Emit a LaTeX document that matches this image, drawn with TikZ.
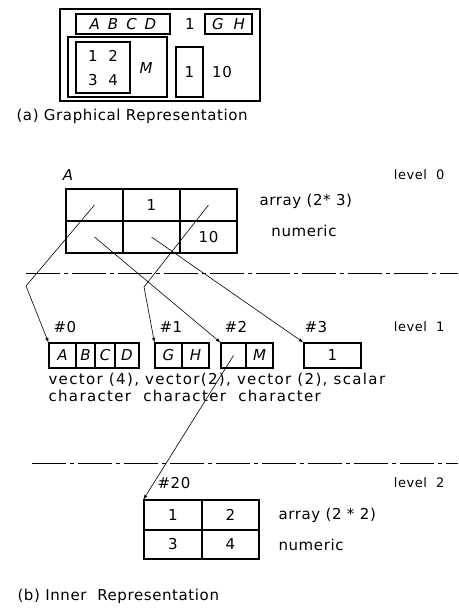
\documentclass[tikz,border=0pt]{standalone}
\usepackage{fontspec}
\setmainfont{DejaVu Sans}[LetterSpace=4]
\usetikzlibrary{arrows,positioning}

\begin{document}
\begin{tikzpicture}[x=1pt,y=-1pt,>=latex,
    every node/.style={font=\fontsize{15}{17}\selectfont},
    frame/.style={draw,line width=1.1pt,inner sep=0pt},
    cellbox/.style={frame,minimum width=57pt,minimum height=32pt},
    lvl/.style={font=\fontsize{13}{15}\selectfont,anchor=east},
    wide/.style={font=\fontsize{15}{17}\selectfont\addfontfeatures{LetterSpace=9}},
    ptr/.style={line width=0.6pt},
    levelline/.style={line width=0.9pt,dash pattern=on 34pt off 4pt on 4pt off 4pt}]
    \useasboundingbox (0,0) rectangle (458,613);

    % (a) graphical representation: nested boxes
    \node[frame,minimum width=200pt,minimum height=92pt] (gr) at (160,55) {};
    \node[frame,minimum width=94pt,minimum height=20pt] (grabcd) at (123,24) {\itshape A\hspace{8pt}B\hspace{8pt}C\hspace{8pt}D};
    \node (grone) at (190,24) {1};
    \node[frame,minimum width=47pt,minimum height=20pt] (grgh) at (228.5,24) {\itshape G\hspace{10pt}H};
    \node[frame,minimum width=99pt,minimum height=60pt] (grm) at (117.5,67) {};
    \node[frame,minimum width=54pt,minimum height=51pt] (grmat) at (103,67.5) {};
    \node (grrow1) at (103,56) {1 \ 2};
    \node (grrow2) at (103,80) {3 \ 4};
    \node (grmname) at (146,68) {\itshape M};
    \node[frame,minimum width=27pt,minimum height=50pt] (grscal) at (189.5,72) {1};
    \node (grten) at (222,72) {10};
    \node[anchor=west] (capa) at (13,116) {(a) Graphical Representation};

    % level 0: the array A
    \node (nameA) at (68,175) {\itshape A};
    \node[lvl] (lvl0) at (448,175) {level\ \ 0};
    \node[cellbox] (a11) at (94.5,205) {};
    \node[cellbox] (a12) at (151.5,205) {1};
    \node[cellbox] (a13) at (208.5,205) {};
    \node[cellbox] (a21) at (94.5,237) {};
    \node[cellbox] (a22) at (151.5,237) {};
    \node[cellbox] (a23) at (208.5,237) {10};
    \node[anchor=west] (a0type) at (256,201) {array (2* 3)};
    \node (a0num) at (304,231) {numeric};

    % border between level 0 and level 1
    \coordinate (d1l) at (26,273);
    \coordinate (d1r) at (458,273);
    \draw[levelline] (d1l) -- (d1r);

    % level 1: the four cells
    \node[anchor=west] (h0) at (50,327) {\#0};
    \node[anchor=west] (h1) at (156,327) {\#1};
    \node[anchor=west] (h2) at (221,327) {\#2};
    \node[anchor=west] (h3) at (301,327) {\#3};
    \node[lvl] (lvl1) at (448,327) {level\ \ 1};

    \node[frame,minimum width=27pt,minimum height=25pt] (v0a) at (62.5,355.5) {\itshape A};
    \node[frame,minimum width=19pt,minimum height=25pt] (v0b) at (85.5,355.5) {\itshape B};
    \node[frame,minimum width=20pt,minimum height=25pt] (v0c) at (105,355.5) {\itshape C};
    \node[frame,minimum width=24pt,minimum height=25pt] (v0d) at (127,355.5) {\itshape D};
    \node[frame,minimum width=27pt,minimum height=25pt] (v1g) at (168.5,355.5) {\itshape G};
    \node[frame,minimum width=27pt,minimum height=25pt] (v1h) at (195.5,355.5) {\itshape H};
    \node[frame,minimum width=25pt,minimum height=25pt] (v2p) at (233.5,355.5) {};
    \node[frame,minimum width=27pt,minimum height=25pt] (v2m) at (259.5,355.5) {\itshape M};
    \node[frame,minimum width=57pt,minimum height=25pt] (v3) at (332.5,355.5) {1};

    \node[wide,anchor=west] (types) at (45,380) {vector (4), vector(2), vector (2), scalar};
    \node[wide,anchor=west] (modes) at (45,396) {character\ \ character\ \ character};

    % pointers from level 0 to level 1
    \coordinate (k0) at (26,286);
    \coordinate (k1) at (144,287);
    \draw[ptr,->] (a11.center) -- (k0) -- (v0a.north west);
    \draw[ptr,->] (a13.center) -- (k1) -- (v1g.north west);
    \draw[ptr,->] (a21.center) -- (v2p.north west);
    \draw[ptr,->] (a22.center) -- (v3.north west);

    % border between level 1 and level 2
    \coordinate (d2l) at (32,463);
    \coordinate (d2r) at (458,463);
    \draw[levelline] (d2l) -- (d2r);

    % level 2: the 2*2 matrix
    \node[anchor=west] (h20) at (154,483) {\#20};
    \node[lvl] (lvl2) at (448,483) {level\ \ 2};
    \node[frame,minimum width=58pt,minimum height=30pt] (m11) at (173,515) {1};
    \node[frame,minimum width=57pt,minimum height=30pt] (m12) at (230.5,515) {2};
    \node[frame,minimum width=58pt,minimum height=29pt] (m21) at (173,544.5) {3};
    \node[frame,minimum width=57pt,minimum height=29pt] (m22) at (230.5,544.5) {4};
    \node[anchor=west] (m2type) at (275,515) {array (2 * 2)};
    \node[anchor=west] (m2num) at (275,545) {numeric};

    % pointer from level 1 to level 2
    \draw[ptr,->] (v2p.center) -- (m11.north west);

    \node[anchor=west] (capb) at (14,596) {(b) Inner\ \ Representation};
\end{tikzpicture}
\end{document}
